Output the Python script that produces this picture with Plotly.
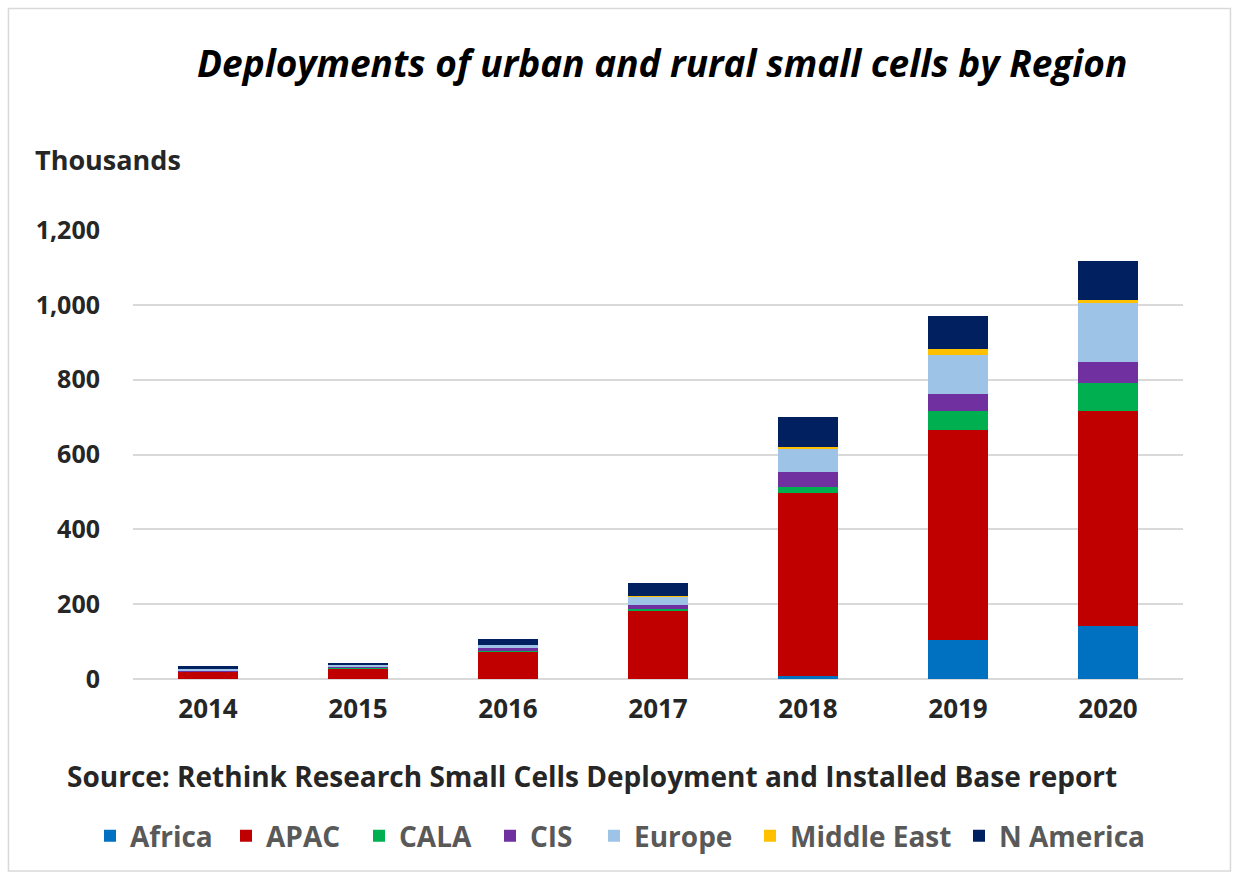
import plotly.graph_objects as go

# Installed small cells per year, thousands, stacked by region
years = ["2014", "2015", "2016", "2017", "2018", "2019", "2020"]

africa = [0, 0, 0, 1, 8, 104, 142]
apac = [19, 29, 74, 182, 488, 562, 575]
cala = [1, 1, 2, 4, 18, 51, 73]
cis = [2, 3, 6, 10, 40, 45, 58]
europe = [4, 4, 9, 24, 62, 104, 156]
middle_east = [0, 0, 0, 2, 5, 15, 10]
n_america = [10, 6, 17, 34, 80, 89, 103]

regions = ["Africa", "APAC", "CALA", "CIS", "Europe", "Middle East", "N America"]
series = [africa, apac, cala, cis, europe, middle_east, n_america]
colors = ["#0070C0", "#C00000", "#00B050", "#7030A0", "#9DC3E6", "#FFC000", "#002060"]

y_ticks = [0, 200, 400, 600, 800, 1000, 1200]
y_tick_text = ["0", "200", "400", "600", "800", "1,000", "1,200"]

FONT = "Open Sans"

# plot area in pixels: x 133..1183, y 230..679
PX0, PW = 133, 1050

# left edge (px) of each legend entry's label along the bottom row
legend_text_x = [131, 267, 400, 531, 635, 791, 1000]

fig = go.Figure()
legend_layouts = {}
for i, (name, vals, col) in enumerate(zip(regions, series, colors)):
    key = "legend" if i == 0 else f"legend{i + 1}"
    fig.add_trace(go.Bar(x=years, y=vals, name=name, marker_color=col,
                         marker_line_width=0, legend=key))
    legend_layouts[key] = dict(
        orientation="h", x=(legend_text_x[i] - 41 - PX0) / PW, xanchor="left",
        y=-0.35, yanchor="middle", bgcolor="rgba(0,0,0,0)",
        font=dict(family=FONT, size=28, color="#595959", weight="bold"),
        itemwidth=30)

fig.update_layout(
    width=1235, height=877,
    margin=dict(l=133, r=52, t=230, b=198),
    paper_bgcolor="white", plot_bgcolor="white",
    barmode="stack", bargap=0.6,
    font=dict(family=FONT, color="#262626"),
    showlegend=True,
    xaxis=dict(showgrid=False, ticks="", showline=False, zeroline=False,
               tickfont=dict(family=FONT, size=26, color="#262626", weight="bold"),
               ticklabelstandoff=12),
    yaxis=dict(range=[0, 1200], tickvals=y_ticks, ticktext=y_tick_text,
               showgrid=True, gridcolor="#D9D9D9", gridwidth=1.5,
               zeroline=True, zerolinecolor="#D9D9D9", zerolinewidth=1.5,
               ticks="", showline=False,
               tickfont=dict(family=FONT, size=25, color="#262626", weight="bold"),
               ticklabelstandoff=32),
    **legend_layouts,
)

fig.add_annotation(text="Deployments of urban and rural small cells by Region",
                   xref="paper", yref="paper", x=0.504, y=1.374,
                   xanchor="center", yanchor="middle", showarrow=False,
                   font=dict(family=FONT, size=37, color="black",
                             weight="bold", style="italic"))
fig.add_annotation(text="Thousands", xref="paper", yref="paper", x=-0.0952, y=1.156,
                   xanchor="left", yanchor="middle", showarrow=False,
                   font=dict(family=FONT, size=27, color="#262626", weight="bold"))
fig.add_annotation(text="Source: Rethink Research Small Cells Deployment and Installed Base report",
                   xref="paper", yref="paper", x=-0.0648, y=-0.216,
                   xanchor="left", yanchor="middle", showarrow=False,
                   font=dict(family=FONT, size=28, color="#262626", weight="bold"))

# thin frame around the whole chart
fig.add_shape(type="rect", xref="paper", yref="paper",
              x0=-0.1186, x1=1.0452, y0=-0.4276, y1=1.4933,
              line=dict(color="#D9D9D9", width=1.5), layer="below")

fig.write_html("out.html")
